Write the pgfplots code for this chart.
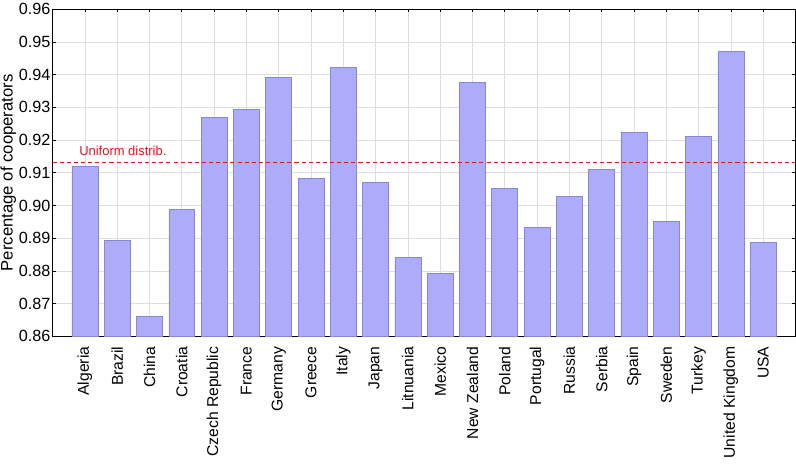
\documentclass[border=0pt]{standalone}
\usepackage{pgfplots}
\pgfplotsset{compat=1.18}
\usepackage{fontspec}
\setmainfont{Liberation Sans}
\definecolor{barfill}{RGB}{172,172,250}
\definecolor{baredge}{RGB}{135,135,210}
\definecolor{gridgray}{RGB}{222,222,222}
\definecolor{unired}{RGB}{225,20,30}
\begin{document}
\begin{tikzpicture}
\begin{axis}[
    scale only axis,
    width=731bp, height=322bp,
    ybar, bar width=25.5bp,
    xmin=-1, xmax=22,
    ymin=0.86, ymax=0.96,
    ytick={0.86,0.87,...,0.961},
    yticklabel style={/pgf/number format/fixed,/pgf/number format/fixed zerofill,/pgf/number format/precision=2},
    xtick={0,...,21},
    xticklabels={Algeria,Brazil,China,Croatia,Czech Republic,France,Germany,Greece,Italy,Japan,Litnuania,Mexico,New Zealand,Poland,Portugal,Russia,Serbia,Spain,Sweden,Turkey,United Kingdom,USA},
    xticklabel style={rotate=90,anchor=east,inner xsep=10bp,font=\fontsize{15.5}{18}\selectfont},
    yticklabel style={font=\fontsize{16}{18}\selectfont,inner xsep=2bp},
    /pgf/number format/assume math mode=true,
    ylabel={Percentage of cooperators},
    ylabel style={font=\fontsize{16.5}{19}\selectfont,inner sep=0.5bp},
    grid=major,
    major grid style={gridgray,line width=0.6pt},
    tick align=inside,
    major tick length=3bp,
    tick style={black,line width=0.6pt},
    axis line style={line width=0.8pt},
    clip=false,
]
\addplot[fill=barfill,draw=baredge,line width=0.6pt] coordinates {
(0,0.9121) (1,0.8893) (2,0.8660) (3,0.8988) (4,0.9269) (5,0.9294)
(6,0.9392) (7,0.9083) (8,0.9423) (9,0.9070) (10,0.8841) (11,0.8793)
(12,0.9377) (13,0.9053) (14,0.8933) (15,0.9027) (16,0.9111) (17,0.9223)
(18,0.8951) (19,0.9211) (20,0.9471) (21,0.8887)};
\addplot[sharp plot,draw=unired,fill=none,dash pattern=on 4bp off 3bp,line width=1.1pt,forget plot] coordinates {(-1,0.9131) (22,0.9131)};
\node[anchor=base west,text=unired,font=\fontsize{12.8}{15}\selectfont,inner sep=0pt] at (axis cs:-0.18,0.9153) {Uniform distrib.};
\end{axis}
\end{tikzpicture}
\end{document}
